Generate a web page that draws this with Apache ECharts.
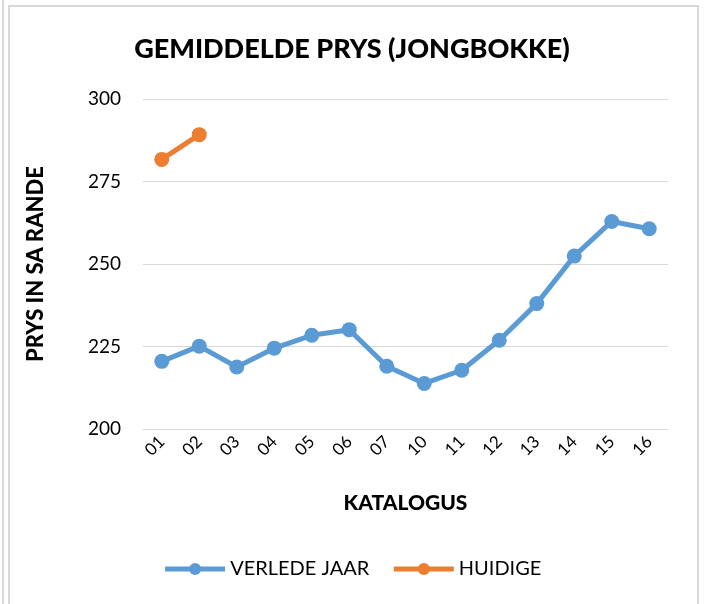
<!DOCTYPE html>
<html>
<head>
<meta charset="utf-8">
<script src="https://cdn.jsdelivr.net/npm/echarts@6/dist/echarts.min.js"></script>
<style>html,body{margin:0;padding:0;background:#fff}#c{width:704px;height:604px}</style>
</head>
<body>
<div id="c"></div>
<script>
var categories = ['01','02','03','04','05','06','07','10','11','12','13','14','15','16'];
var verledeJaar = [220.5, 225.1, 218.8, 224.5, 228.4, 230.1, 219.0, 213.8, 217.8, 226.9, 238.0, 252.4, 262.9, 260.7];
var huidige = [281.7, 289.2, null, null, null, null, null, null, null, null, null, null, null, null];
var yTicks = { min: 200, max: 300, interval: 25 };

var FONT = 'Lato';
var chart = echarts.init(document.getElementById('c'), null, { renderer: 'canvas' });
chart.setOption({
  backgroundColor: '#fff',
  animation: false,
  title: {
    text: 'GEMIDDELDE PRYS (JONGBOKKE)',
    left: 'center', top: 31,
    textStyle: { fontFamily: FONT, fontWeight: 900, fontSize: 27, color: '#000' }
  },
  graphic: [
    { type: 'rect', shape: { x: 9, y: 6, width: 689, height: 640 }, style: { fill: 'none', stroke: '#d9d9d9', lineWidth: 2 }, silent: true },
    { type: 'line', shape: { x1: 3, y1: 0, x2: 3, y2: 604 }, style: { stroke: '#d9d9d9', lineWidth: 2 }, silent: true }
  ],
  grid: { left: 143, right: 36, top: 99, bottom: 175 },
  legend: {
    bottom: 20, left: 'center',
    itemWidth: 60, itemHeight: 15, itemGap: 22,
    lineStyle: { width: 5 },
    textStyle: { fontFamily: FONT, fontSize: 20, color: '#000' },
    data: ['VERLEDE JAAR', 'HUIDIGE']
  },
  xAxis: {
    type: 'category', data: categories, boundaryGap: true,
    name: 'KATALOGUS', nameLocation: 'middle', nameGap: 64,
    nameTextStyle: { fontFamily: FONT, fontWeight: 900, fontSize: 21, color: '#000' },
    axisLine: { show: true, lineStyle: { color: '#d9d9d9', width: 1 } },
    axisTick: { show: false },
    axisLabel: { rotate: 45, fontFamily: FONT, fontSize: 17, color: '#000', margin: 10 },
    splitLine: { show: false }
  },
  yAxis: {
    type: 'value', min: yTicks.min, max: yTicks.max, interval: yTicks.interval,
    name: 'PRYS IN SA RANDE', nameLocation: 'middle', nameGap: 96, nameRotate: 90,
    nameTextStyle: { fontFamily: FONT, fontWeight: 900, fontSize: 22, color: '#000' },
    axisLine: { show: false }, axisTick: { show: false },
    axisLabel: { fontFamily: FONT, fontSize: 19, color: '#000', margin: 22 },
    splitLine: { lineStyle: { color: '#d9d9d9', width: 1 } }
  },
  series: [
    { name: 'VERLEDE JAAR', type: 'line', data: verledeJaar, symbol: 'circle', symbolSize: 15,
      lineStyle: { color: '#5B9BD5', width: 5 }, itemStyle: { color: '#5B9BD5' } },
    { name: 'HUIDIGE', type: 'line', data: huidige, symbol: 'circle', symbolSize: 15,
      lineStyle: { color: '#ED7D31', width: 5 }, itemStyle: { color: '#ED7D31' } }
  ]
});
</script>
</body>
</html>
